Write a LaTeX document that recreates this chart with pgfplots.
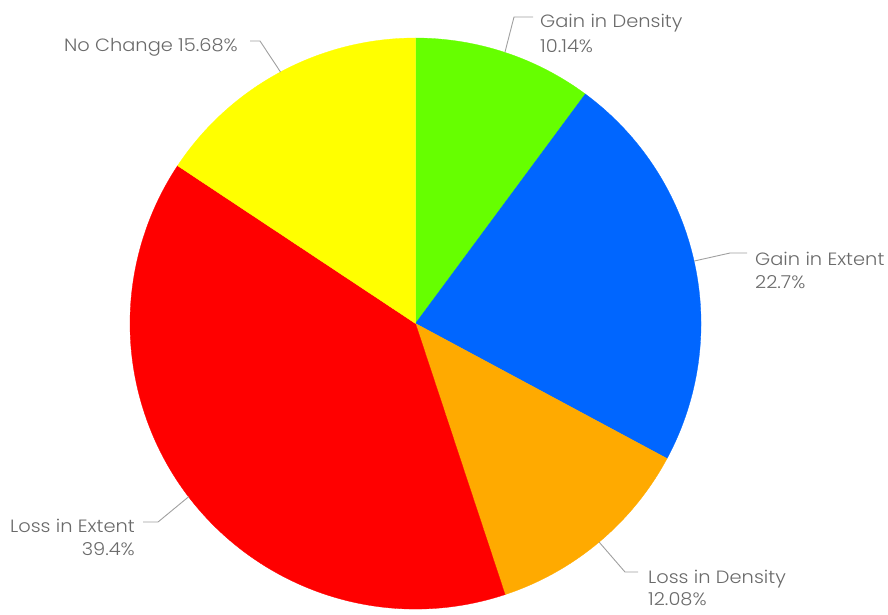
\documentclass[border=0pt]{standalone}
\usepackage{pgfplots}
\pgfplotsset{compat=1.18}
\usepackage{pgfplotstable}
\usepackage{fontspec}
\setmainfont{Poppins}[UprightFont={* Light}, FakeStretch=1.09]
\definecolor{cGD}{HTML}{66FF00}
\definecolor{cGE}{HTML}{0066FF}
\definecolor{cLD}{HTML}{FFAA00}
\definecolor{cLE}{HTML}{FF0000}
\definecolor{cNC}{HTML}{FFFF00}
\definecolor{txtgray}{HTML}{6A6A6A}
\definecolor{linegray}{HTML}{A0A0A0}

\pgfplotstableread{
idx value
0 10.14
1 22.7
2 12.08
3 39.4
4 15.68
}\piedata

\begin{document}
\begin{tikzpicture}[every node/.style={font=\fontsize{17.8}{20}\selectfont, text=txtgray, inner sep=0pt}]
\pgfplotstablegetelem{0}{value}\of\piedata \pgfmathsetmacro\vA{\pgfplotsretval}
\pgfplotstablegetelem{1}{value}\of\piedata \pgfmathsetmacro\vB{\pgfplotsretval}
\pgfplotstablegetelem{2}{value}\of\piedata \pgfmathsetmacro\vC{\pgfplotsretval}
\pgfplotstablegetelem{3}{value}\of\piedata \pgfmathsetmacro\vD{\pgfplotsretval}
\pgfplotstablegetelem{4}{value}\of\piedata \pgfmathsetmacro\vE{\pgfplotsretval}
\pgfmathsetmacro\sA{90}
\pgfmathsetmacro\eA{\sA-3.6*\vA}
\pgfmathsetmacro\eB{\eA-3.6*\vB}
\pgfmathsetmacro\eC{\eB-3.6*\vC}
\pgfmathsetmacro\eD{\eC-3.6*\vD}
\pgfmathsetmacro\eE{\eD-3.6*\vE}
\pgfmathsetmacro\mA{(\sA+\eA)/2}
\pgfmathsetmacro\mB{(\eA+\eB)/2}
\pgfmathsetmacro\mC{(\eB+\eC)/2}
\pgfmathsetmacro\mD{(\eC+\eD)/2}
\pgfmathsetmacro\mE{(\eD+\eE)/2}
\def\R{285.5}
\begin{axis}[
  scale only axis, width=888pt, height=614pt,
  xmin=0, xmax=888, ymin=0, ymax=614, y dir=reverse,
  hide axis, clip=false,
]
\addplot[draw=none, forget plot] coordinates {(0,0) (888,614)};
\fill[cGD, draw=cGD, line width=0.3pt] (axis cs:415.5,323.5) -- +(\sA:\R pt) arc[start angle=\sA, end angle=\eA, radius=\R pt] -- cycle;
\fill[cGE, draw=cGE, line width=0.3pt] (axis cs:415.5,323.5) -- +(\eA:\R pt) arc[start angle=\eA, end angle=\eB, radius=\R pt] -- cycle;
\fill[cLD, draw=cLD, line width=0.3pt] (axis cs:415.5,323.5) -- +(\eB:\R pt) arc[start angle=\eB, end angle=\eC, radius=\R pt] -- cycle;
\fill[cLE, draw=cLE, line width=0.3pt] (axis cs:415.5,323.5) -- +(\eC:\R pt) arc[start angle=\eC, end angle=\eD, radius=\R pt] -- cycle;
\fill[cNC, draw=cNC, line width=0.3pt] (axis cs:415.5,323.5) -- +(\eD:\R pt) arc[start angle=\eD, end angle=\eE, radius=\R pt] -- cycle;
% leaders
\draw[linegray, line width=0.9pt] (axis cs:415.5,323.5) ++(\mA:\R pt) -- (axis cs:514,17) -- (axis cs:533,17);
\draw[linegray, line width=0.9pt] (axis cs:415.5,323.5) ++(\mB:\R pt) -- (axis cs:730,253) -- (axis cs:747,253);
\draw[linegray, line width=0.9pt] (axis cs:415.5,323.5) ++(\mC:\R pt) -- (axis cs:625,572) -- (axis cs:638,572);
\draw[linegray, line width=0.9pt] (axis cs:415.5,323.5) ++(\mD:\R pt) -- (axis cs:158,522) -- (axis cs:143,522);
\draw[linegray, line width=0.9pt] (axis cs:415.5,323.5) ++(\mE:\R pt) -- (axis cs:260,41) -- (axis cs:250,41);
% labels
\node[anchor=base west] at (axis cs:540,27) {Gain in Density};
\node[anchor=base west] at (axis cs:540,52) {10.14\%};
\node[anchor=base west] at (axis cs:755,265) {Gain in Extent};
\node[anchor=base west] at (axis cs:755,288) {22.7\%};
\node[anchor=base west] at (axis cs:648,583) {Loss in Density};
\node[anchor=base west] at (axis cs:648,605) {12.08\%};
\node[anchor=base east] at (axis cs:135,532) {Loss in Extent};
\node[anchor=base east] at (axis cs:135,555) {39.4\%};
\node[anchor=base east] at (axis cs:238,51) {No Change 15.68\%};
\end{axis}
\pgfresetboundingbox
\path (current axis.south west) rectangle (current axis.north east);
\end{tikzpicture}
\end{document}
